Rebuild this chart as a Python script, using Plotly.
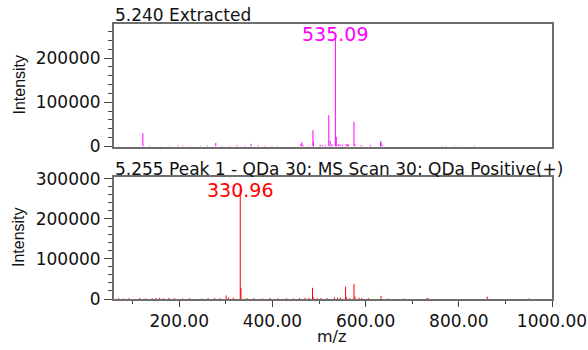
import plotly.graph_objects as go

# Extracted spectrum at 5.240 min (magenta)
top_mz = [70, 85, 122, 137, 159, 180, 197.5, 208, 223, 245, 260, 278.5, 292, 309, 324, 341,
          354, 369, 384, 399, 410, 461, 463, 466, 476, 487, 488, 502.5, 507, 513, 521, 524,
          528, 535.09, 537, 541, 545, 550, 558, 561, 563, 575, 577, 590.6, 610.6, 632, 633,
          636, 653, 696, 750, 765, 773, 790, 799, 833, 878, 911, 926, 968.7]
top_int = [1000, 1200, 30000, 2000, 1500, 1500, 2500, 2000, 1500, 2000, 2500, 8000, 2000, 2000,
           3000, 2000, 6000, 2500, 2000, 1500, 1500, 5000, 10000, 3000, 2000, 37000, 11000, 4000,
           3000, 3000, 71000, 13000, 5000, 257000, 22000, 5000, 5000, 4000, 6000, 4000, 5000,
           56000, 5000, 3000, 3500, 9000, 12000, 3000, 1000, 1000, 1000, 1500, 1500, 1500, 1500,
           2000, 1000, 1000, 1000, 1000]

# Peak 1 MS scan at 5.255 min (red)
bot_mz = [70, 80, 92, 115, 128, 142, 150, 158, 166, 178, 190, 208, 222, 248, 262, 276, 287,
          300.6, 305.6, 316, 330.96, 332.5, 345, 360, 378, 395, 412, 430, 445, 458, 470, 478,
          486, 487.5, 496, 504, 517, 533, 540, 546, 557, 558.5, 566, 575, 577, 586, 592, 606,
          633, 648, 683, 732, 734, 861, 951]
bot_int = [2000, 1500, 2000, 2500, 1500, 2000, 2500, 3000, 2000, 2500, 2000, 1500, 2000, 1500,
           2000, 2500, 2000, 9000, 4000, 3000, 276000, 27000, 2500, 2000, 1500, 2500, 2000, 2000,
           1500, 2500, 3000, 2500, 28000, 5000, 2000, 2500, 2500, 4000, 3000, 3500, 31000, 5000,
           2000, 38000, 6000, 3000, 2500, 2000, 8000, 1500, 1500, 2500, 2000, 6000, 1500]

top_title = "5.240 Extracted"
bot_title = "5.255 Peak 1 - QDa 30: MS Scan 30: QDa Positive(+)"
top_peak = 535.09
bot_peak = 330.96

FONT = "DejaVu Sans"
AXIS_GREY = "#6e6e6e"


def sticks(mz, inten):
    xs, ys = [], []
    for m, v in zip(mz, inten):
        xs += [m, m, None]
        ys += [0, v, None]
    return xs, ys


fig = go.Figure()
tx, ty = sticks(top_mz, top_int)
bx, by = sticks(bot_mz, bot_int)
fig.add_trace(go.Scatter(x=tx, y=ty, mode="lines", line=dict(color="#ff00ff", width=1),
                         xaxis="x", yaxis="y", hoverinfo="skip", showlegend=False))
fig.add_trace(go.Scatter(x=bx, y=by, mode="lines", line=dict(color="#ff0000", width=1),
                         xaxis="x2", yaxis="y2", hoverinfo="skip", showlegend=False))

yaxis_common = dict(
    showline=True, mirror=True, linecolor=AXIS_GREY, linewidth=2,
    ticks="outside", ticklen=8, tickwidth=1, tickcolor="#444444",
    tickformat="d", showgrid=False, zeroline=False,
    tickfont=dict(family=FONT, size=17, color="#111111"),
    minor=dict(dtick=20000, ticks="outside", ticklen=4, tickcolor="#444444", showgrid=False),
    automargin=False,
)

fig.update_layout(
    width=588, height=350,
    margin=dict(l=114, r=36, t=24, b=51),
    paper_bgcolor="white", plot_bgcolor="white",
    xaxis=dict(domain=[0, 1], anchor="y", range=[60, 1000], showline=True, mirror=True,
               linecolor=AXIS_GREY, linewidth=2, showticklabels=False, ticks="",
               showgrid=False, zeroline=False, automargin=False),
    yaxis=dict(domain=[0.5545, 1.0], anchor="x", range=[0, 277000], dtick=100000, **yaxis_common),
    xaxis2=dict(domain=[0, 1], anchor="y2", range=[60, 1000], showline=True, mirror=True,
                linecolor=AXIS_GREY, linewidth=2, ticks="outside", ticklen=6, tickwidth=1,
                tickcolor="#444444", tick0=0, dtick=200, tickformat=".2f",
                tickfont=dict(family=FONT, size=17, color="#111111"),
                minor=dict(dtick=100, ticks="outside", ticklen=3, tickcolor="#444444", showgrid=False),
                ticklabeloverflow="allow", showgrid=False, zeroline=False, automargin=False),
    yaxis2=dict(domain=[0, 0.4425], anchor="x2", range=[0, 304000], dtick=100000, **yaxis_common),
)

annotations = [
    dict(text=top_title, xref="paper", yref="paper", x=-0.002, y=1.031, xanchor="left",
         yanchor="middle", showarrow=False, font=dict(family=FONT, size=17, color="#111111")),
    dict(text=bot_title, xref="paper", yref="paper", x=-0.002, y=0.4738, xanchor="left",
         yanchor="middle", showarrow=False, font=dict(family=FONT, size=17, color="#111111")),
    dict(text="Intensity", xref="paper", yref="paper", x=-0.218, y=(299 - 85) / 275,
         xanchor="center", yanchor="middle", textangle=-90, showarrow=False,
         font=dict(family="Liberation Sans", size=16, color="#111111")),
    dict(text="Intensity", xref="paper", yref="paper", x=-0.218, y=(299 - 237.5) / 275,
         xanchor="center", yanchor="middle", textangle=-90, showarrow=False,
         font=dict(family="Liberation Sans", size=16, color="#111111")),
    dict(text="m/z", xref="paper", yref="paper", x=(331.7 - 114) / 438, y=(299 - 336) / 275,
         xanchor="center", yanchor="middle", showarrow=False,
         font=dict(family=FONT, size=16, color="#111111")),
    dict(text=f"{top_peak:.2f}", xref="x", yref="y", x=top_peak,
         y=top_int[top_mz.index(top_peak)], xanchor="center", yanchor="middle", yshift=-1,
         showarrow=False, font=dict(family=FONT, size=19, color="#ff00ff")),
    dict(text=f"{bot_peak:.2f}", xref="x2", yref="y2", x=bot_peak,
         y=bot_int[bot_mz.index(bot_peak)], xanchor="center", yanchor="middle", yshift=-1,
         showarrow=False, font=dict(family=FONT, size=19, color="#ff0000")),
]
fig.update_layout(annotations=annotations)

fig.write_html("out.html")
